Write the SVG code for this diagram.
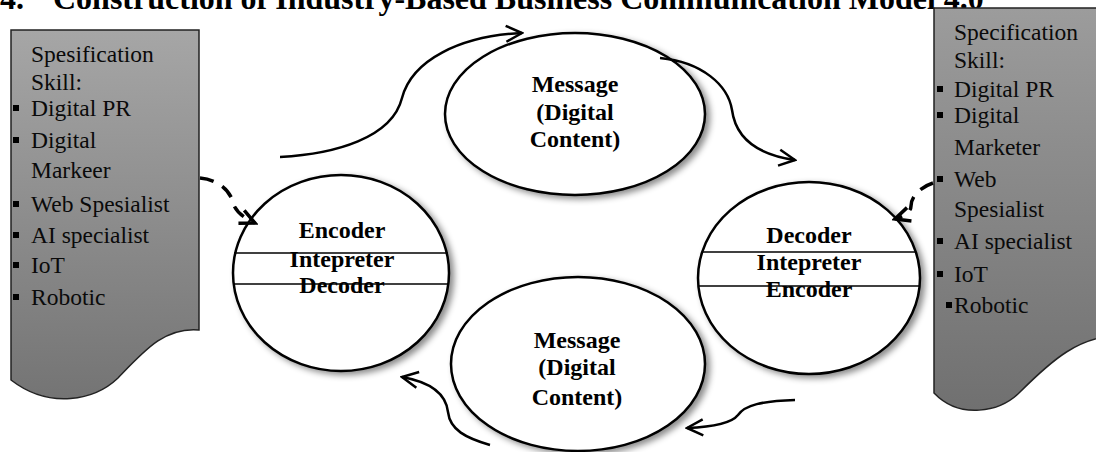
<svg xmlns="http://www.w3.org/2000/svg" width="1096" height="452" viewBox="0 0 1096 452">
  <defs>
    <linearGradient id="boxGradL" x1="0" y1="0" x2="0" y2="1">
      <stop offset="0" stop-color="#a6a6a6"/>
      <stop offset="1" stop-color="#747474"/>
    </linearGradient>
    <linearGradient id="boxGradR" x1="0" y1="0" x2="0" y2="1">
      <stop offset="0" stop-color="#9c9c9c"/>
      <stop offset="1" stop-color="#707070"/>
    </linearGradient>
    <filter id="shadow" x="-10%" y="-10%" width="125%" height="125%">
      <feDropShadow dx="4" dy="3" stdDeviation="3" flood-color="#000" flood-opacity="0.45"/>
    </filter>
    <marker id="vArrow" viewBox="0 0 20 20" markerWidth="20" markerHeight="20" refX="18" refY="10" orient="auto" markerUnits="userSpaceOnUse">
      <path d="M2,2 L18,10 L2,18" fill="none" stroke="#000" stroke-width="2.5" stroke-linejoin="miter"/>
    </marker>
    <marker id="vArrowDash" viewBox="0 0 20 20" markerWidth="20" markerHeight="20" refX="17" refY="10" orient="auto" markerUnits="userSpaceOnUse">
      <path d="M2,3 L17,10 L2,17" fill="none" stroke="#000" stroke-width="3.5"/>
    </marker>
  </defs>
  <style>
    .title { font-family: "Liberation Serif", "Times New Roman", serif; font-weight: bold; font-size: 32px; fill: #000; }
    .skill { font-family: "Liberation Serif", "Times New Roman", serif; font-size: 23.5px; fill: #0a0a0a; }
    .node-label { font-family: "Liberation Serif", "Times New Roman", serif; font-weight: bold; font-size: 24px; fill: #000; text-anchor: middle; }
    .bubble { fill: #fff; stroke: #000; stroke-width: 2.5; filter: url(#shadow); }
    .divider { stroke: #000; stroke-width: 1.5; }
    .box { stroke: #222; stroke-width: 1.5; }
    .flow { fill: none; stroke: #000; stroke-width: 2.5; marker-end: url(#vArrow); }
    .dashed { fill: none; stroke: #000; stroke-width: 3.5; stroke-dasharray: 14 10; marker-end: url(#vArrowDash); }
    .bullet { fill: #000; }
  </style>

  <rect width="1096" height="452" fill="#fff"/>

  <!-- heading, partly cut off at the top edge -->
  <g id="heading">
    <text class="title" x="0" y="9">4.</text>
    <text class="title" x="53" y="9">Construction of Industry-Based Business Communication Model 4.0</text>
  </g>

  <!-- left skill panel (document shape) -->
  <g id="skills-left">
    <path class="box" fill="url(#boxGradL)" d="M11,30 H199 V330 C165,327 145,350 118,378 C95,400 50,410 11,380 Z"/>
    <text class="skill" x="31" y="62">Spesification</text>
    <text class="skill" x="31" y="90">Skill:</text>
    <rect class="bullet" x="13" y="105" width="6" height="6"/>
    <text class="skill" x="31" y="116">Digital PR</text>
    <rect class="bullet" x="13" y="137" width="6" height="6"/>
    <text class="skill" x="31" y="148">Digital</text>
    <text class="skill" x="31" y="178">Markeer</text>
    <rect class="bullet" x="13" y="201" width="6" height="6"/>
    <text class="skill" x="31" y="212">Web Spesialist</text>
    <rect class="bullet" x="13" y="232" width="6" height="6"/>
    <text class="skill" x="31" y="243">AI specialist</text>
    <rect class="bullet" x="13" y="262" width="6" height="6"/>
    <text class="skill" x="31" y="273">IoT</text>
    <rect class="bullet" x="13" y="294" width="6" height="6"/>
    <text class="skill" x="31" y="305">Robotic</text>
  </g>

  <!-- right skill panel (document shape, runs past the right edge) -->
  <g id="skills-right">
    <path class="box" fill="url(#boxGradR)" d="M934,8 H1122 V336 C1080,334 1050,362 1020,392 C1000,412 960,420 934,393 Z"/>
    <text class="skill" x="954" y="40">Specification</text>
    <text class="skill" x="954" y="68">Skill:</text>
    <rect class="bullet" x="937" y="86" width="6" height="6"/>
    <text class="skill" x="954" y="97">Digital PR</text>
    <rect class="bullet" x="937" y="112" width="6" height="6"/>
    <text class="skill" x="954" y="123">Digital</text>
    <text class="skill" x="954" y="155">Marketer</text>
    <rect class="bullet" x="937" y="176" width="6" height="6"/>
    <text class="skill" x="954" y="187">Web</text>
    <text class="skill" x="954" y="217">Spesialist</text>
    <rect class="bullet" x="937" y="238" width="6" height="6"/>
    <text class="skill" x="954" y="249">AI specialist</text>
    <rect class="bullet" x="937" y="271" width="6" height="6"/>
    <text class="skill" x="954" y="282">IoT</text>
    <rect class="bullet" x="946" y="302" width="6" height="6"/>
    <text class="skill" x="954" y="313">Robotic</text>
  </g>

  <!-- message bubble, top -->
  <g id="message-top">
    <ellipse class="bubble" cx="575" cy="114" rx="130" ry="81"/>
    <text class="node-label" x="575" y="92">Message</text>
    <text class="node-label" x="575" y="120">(Digital</text>
    <text class="node-label" x="575" y="147">Content)</text>
  </g>

  <!-- message bubble, bottom -->
  <g id="message-bottom">
    <ellipse class="bubble" cx="578" cy="364" rx="127" ry="87"/>
    <text class="node-label" x="577" y="348">Message</text>
    <text class="node-label" x="577" y="375">(Digital</text>
    <text class="node-label" x="577" y="405">Content)</text>
  </g>

  <!-- sender side -->
  <g id="encoder">
    <ellipse class="bubble" cx="341" cy="273" rx="108" ry="98"/>
    <line class="divider" x1="234" y1="253" x2="448" y2="253"/>
    <line class="divider" x1="233" y1="284" x2="449" y2="284"/>
    <text class="node-label" x="342" y="238">Encoder</text>
    <text class="node-label" x="342" y="267">Intepreter</text>
    <text class="node-label" x="342" y="293">Decoder</text>
  </g>

  <!-- receiver side -->
  <g id="decoder">
    <ellipse class="bubble" cx="809" cy="278" rx="111" ry="96"/>
    <line class="divider" x1="703" y1="252" x2="915" y2="252"/>
    <line class="divider" x1="698" y1="286" x2="920" y2="286"/>
    <text class="node-label" x="809" y="243">Decoder</text>
    <text class="node-label" x="809" y="270">Intepreter</text>
    <text class="node-label" x="809" y="297">Encoder</text>
  </g>

  <!-- connectors -->
  <g id="connectors">
    <path class="flow" d="M280,157 C335,154 392,138 402,98 C412,60 460,36 522,33"/>
    <path class="flow" d="M660,58 C702,62 728,85 732,110 C736,140 760,155 795,160"/>
    <path class="flow" d="M795,400 C762,401 745,405 738,415 C731,424 712,427 687,428"/>
    <path class="flow" d="M490,445 C466,438 450,430 448,412 C446,394 430,382 402,377"/>
    <path class="dashed" d="M200,178 C222,180 232,195 233,203 C236,212 244,218 255,223"/>
    <path class="dashed" d="M933,183 C918,188 911,198 911,206 C911,212 904,216 895,219"/>
  </g>
</svg>
